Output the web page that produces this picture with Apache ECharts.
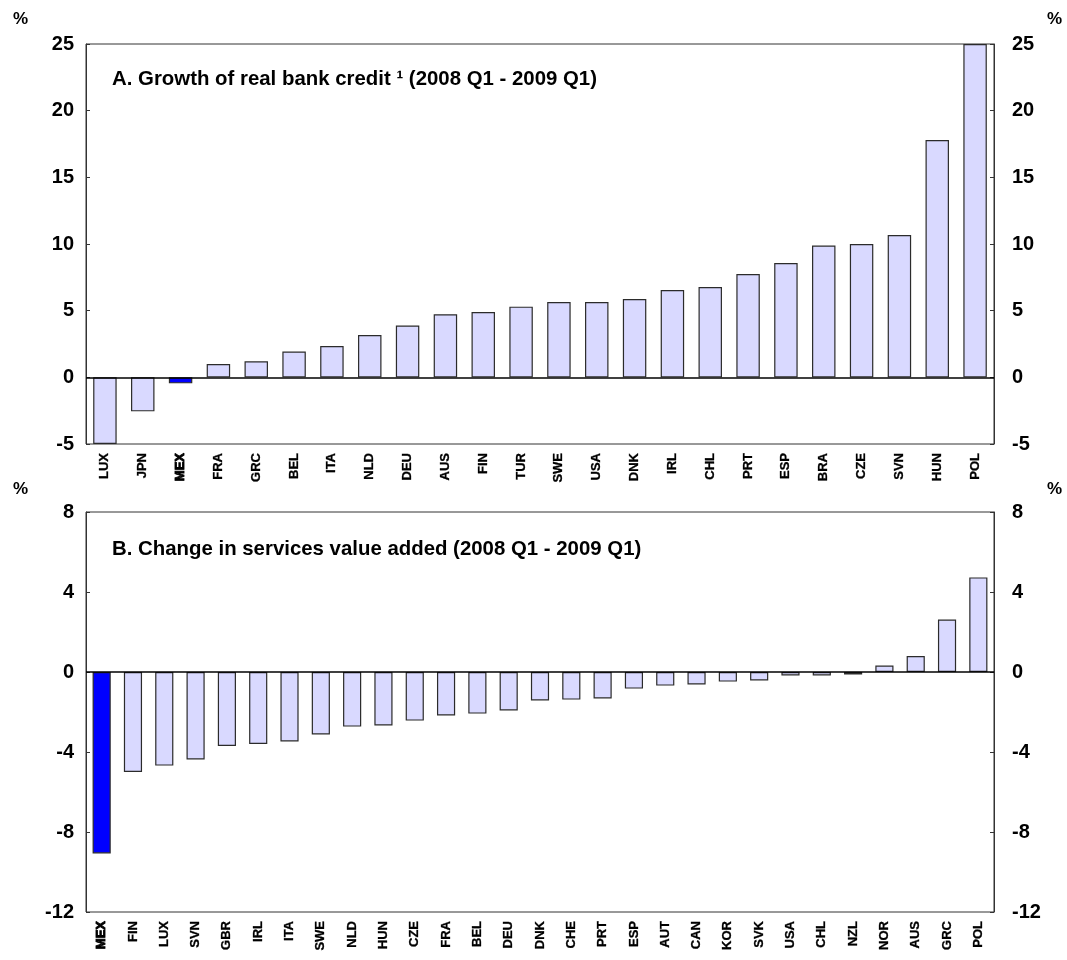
<!DOCTYPE html>
<html>
<head>
<meta charset="utf-8">
<script src="https://cdn.jsdelivr.net/npm/echarts@6/dist/echarts.min.js"></script>
<style>
  html, body { margin: 0; padding: 0; background: #fff; }
  #chart { width: 1067px; height: 960px; }
</style>
</head>
<body>
<div id="chart"></div>
<script>
// Panel A: growth of real bank credit, 2008 Q1 - 2009 Q1 (%)
const categoriesA = ['LUX', 'JPN', 'MEX', 'FRA', 'GRC', 'BEL', 'ITA', 'NLD', 'DEU', 'AUS', 'FIN', 'TUR', 'SWE',
  'USA', 'DNK', 'IRL', 'CHL', 'PRT', 'ESP', 'BRA', 'CZE', 'SVN', 'HUN', 'POL'];
const creditGrowth = [-5.0, -2.55, -0.45, 1.0, 1.2, 1.93, 2.35, 3.18, 3.88, 4.73, 4.9, 5.3, 5.65,
  5.65, 5.88, 6.55, 6.78, 7.75, 8.58, 9.88, 10.0, 10.68, 17.8, 25.0];
const ticksA = { min: -5, max: 25, interval: 5 };

// Panel B: change in services value added, 2008 Q1 - 2009 Q1 (%)
const categoriesB = ['MEX', 'FIN', 'LUX', 'SVN', 'GBR', 'IRL', 'ITA', 'SWE', 'NLD', 'HUN', 'CZE', 'FRA', 'BEL', 'DEU',
  'DNK', 'CHE', 'PRT', 'ESP', 'AUT', 'CAN', 'KOR', 'SVK', 'USA', 'CHL', 'NZL', 'NOR', 'AUS', 'GRC', 'POL'];
const servicesChange = [-9.07, -5.0, -4.68, -4.37, -3.7, -3.6, -3.47, -3.12, -2.73, -2.67, -2.43, -2.17, -2.08, -1.92,
  -1.42, -1.38, -1.32, -0.83, -0.68, -0.62, -0.48, -0.42, -0.17, -0.17, -0.12, 0.32, 0.8, 2.62, 4.73];
const ticksB = { min: -12, max: 8, interval: 4 };

const focusCountry = 'MEX';
const FONT = 'Liberation Sans, Arial, sans-serif';
const BAR_FILL = '#d9d9ff';
const FOCUS_FILL = '#0000ff';
const EDGE = '#2b2b2b';

function barData(cats, vals) {
  return vals.map((v, i) => ({
    value: v,
    itemStyle: { color: cats[i] === focusCountry ? FOCUS_FILL : BAR_FILL }
  }));
}

function catLabel() {
  return {
    interval: 0,
    rotate: 90,
    margin: 9,
    fontFamily: FONT,
    fontSize: 13,
    fontWeight: 'bold',
    color: '#000',
    textBorderColor: '#000',
    textBorderWidth: 0.3,
    formatter: v => v === focusCountry ? '{focus|' + v + '}' : v,
    rich: {
      focus: { fontFamily: FONT, fontSize: 13, fontWeight: 'bold', color: '#000',
        textBorderColor: '#000', textBorderWidth: 0.9 }
    }
  };
}

function valueAxis(grid, pos, t) {
  return {
    type: 'value', gridIndex: grid, position: pos,
    min: t.min, max: t.max, interval: t.interval,
    splitLine: { show: false },
    axisLine: { show: true, lineStyle: { color: '#333', width: 1 } },
    axisTick: { show: true, inside: true, length: 4, lineStyle: { color: '#333' } },
    axisLabel: { fontFamily: FONT, fontSize: 20, fontWeight: 'bold', color: '#000',
      margin: pos === 'left' ? 12 : 18 }
  };
}

function zeroLine() {
  return {
    silent: true, symbol: 'none', animation: false,
    label: { show: false },
    lineStyle: { color: '#000', width: 1.5, type: 'solid' },
    data: [{ yAxis: 0 }]
  };
}

const chart = echarts.init(document.getElementById('chart'), null, { renderer: 'canvas' });

const pctStyle = { fontFamily: FONT, fontSize: 17, fontWeight: 'bold', fill: '#000' };
const titleStyle = { fontFamily: FONT, fontSize: 20.4, fontWeight: 'bold', color: '#000' };

chart.setOption({
  animation: false,
  backgroundColor: '#fff',
  title: [
    { text: 'A. Growth of real bank credit \u00b9 (2008 Q1 - 2009 Q1)', left: 107, top: 64, textStyle: titleStyle },
    { text: 'B. Change in services value added (2008 Q1 - 2009 Q1)', left: 107, top: 534, textStyle: titleStyle }
  ],
  graphic: [
    { type: 'text', left: 13, top: 11, style: Object.assign({ text: '%' }, pctStyle) },
    { type: 'text', left: 1047, top: 11, style: Object.assign({ text: '%' }, pctStyle) },
    { type: 'text', left: 13, top: 481, style: Object.assign({ text: '%' }, pctStyle) },
    { type: 'text', left: 1047, top: 481, style: Object.assign({ text: '%' }, pctStyle) }
  ],
  grid: [
    { left: 86, right: 73, top: 44, height: 400, show: true, borderColor: '#333', borderWidth: 1 },
    { left: 86, right: 73, top: 512, height: 400, show: true, borderColor: '#333', borderWidth: 1 }
  ],
  xAxis: [
    { type: 'category', gridIndex: 0, data: categoriesA, position: 'bottom',
      axisLine: { show: false, onZero: false }, axisTick: { show: false }, axisLabel: catLabel() },
    { type: 'category', gridIndex: 1, data: categoriesB, position: 'bottom',
      axisLine: { show: false, onZero: false }, axisTick: { show: false }, axisLabel: catLabel() }
  ],
  yAxis: [
    valueAxis(0, 'left', ticksA),
    valueAxis(0, 'right', ticksA),
    valueAxis(1, 'left', ticksB),
    valueAxis(1, 'right', ticksB)
  ],
  series: [
    { type: 'bar', xAxisIndex: 0, yAxisIndex: 0, data: barData(categoriesA, creditGrowth),
      barWidth: '62%', itemStyle: { borderColor: EDGE, borderWidth: 1.2 }, markLine: zeroLine() },
    { type: 'bar', xAxisIndex: 1, yAxisIndex: 2, data: barData(categoriesB, servicesChange),
      barWidth: '58%', itemStyle: { borderColor: EDGE, borderWidth: 1.2 }, markLine: zeroLine() }
  ]
});
</script>
</body>
</html>
